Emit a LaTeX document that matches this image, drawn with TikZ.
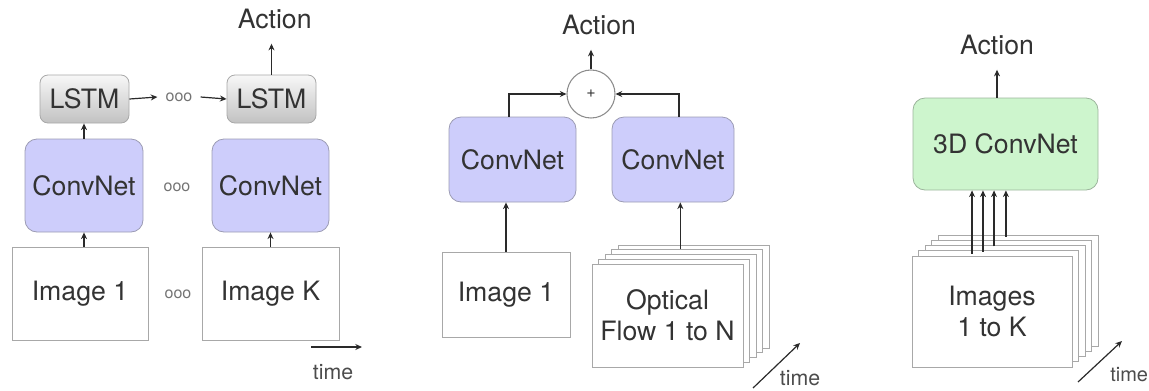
\documentclass[tikz,border=0pt]{standalone}
\usepackage{fontspec}
\setmainfont{TeX Gyre Heros}
\usetikzlibrary{arrows.meta,calc}
\definecolor{txt}{HTML}{333333}
\definecolor{lav}{HTML}{CDCDFB}
\definecolor{lavb}{HTML}{9C9CB4}
\definecolor{grn}{HTML}{CDF5CD}
\definecolor{grnb}{HTML}{9CB49C}
\definecolor{boxb}{HTML}{A8A8A8}
\definecolor{ln}{HTML}{2A2A2A}
\begin{document}
\begin{tikzpicture}[x=0.75pt,y=-0.75pt,
  lbl/.style={text=txt,font=\fontsize{20}{23.25}\selectfont},
  act/.style={lbl,inner xsep=0pt,inner ysep=10.9pt},
  arr/.style={draw=ln,line width=0.9pt,-{Stealth[length=5pt,width=4.5pt]}},
  lstmbox/.style={lbl,draw=boxb,rounded corners=6pt,top color=black!3,bottom color=black!24,line width=0.6pt,minimum width=66.75pt,minimum height=36pt,inner sep=0pt},
  conv/.style={lbl,draw=lavb,fill=lav,rounded corners=9pt,line width=0.6pt,inner sep=0pt},
  conv3/.style={lbl,draw=grnb,fill=grn,rounded corners=9pt,line width=0.6pt,inner sep=0pt},
  imgbox/.style={lbl,draw=boxb,fill=white,line width=0.7pt,inner sep=0pt,align=center},
  dotsl/.style={text=black!55,font=\fontsize{12}{12}\selectfont,inner xsep=6pt,inner ysep=2pt},
  timel/.style={text=black!70,font=\fontsize{16}{16}\selectfont,inner sep=0pt},
  tarr/.style={draw=ln,line width=0.9pt,-{Stealth[length=5pt,width=4.5pt]}},
]
\useasboundingbox (0,0) rectangle (1149,390);

% ---------------- Panel 1 ----------------
\node[lstmbox] (lstm1) at (84.5,99) {LSTM};
\node[lstmbox] (lstm2) at (271.5,99) {LSTM};
\node[dotsl] (d1) at (179,97) {ooo};
\node[conv,minimum width=88.5pt,minimum height=69.75pt] (cn1) at (84,185.5) {ConvNet};
\node[conv,minimum width=87.75pt,minimum height=69.75pt] (cn2) at (270.5,185.5) {ConvNet};
\node[dotsl] (d2) at (177,187) {ooo};
\node[imgbox,minimum width=102pt,minimum height=69.75pt] (img1) at (80,293.5) {Image 1};
\node[imgbox,minimum width=102.75pt,minimum height=69.75pt] (imgK) at (270.5,293.5) {Image K};
\node[dotsl] (d3) at (178,294) {ooo};
\node[act] (act1) at (274.7,19) {Action};

\draw[arr] (cn1.south |- img1.north) -- (cn1.south);
\draw[arr] (imgK.north) -- (imgK.north |- cn2.south);
\draw[arr] (cn1.north) -- (cn1.north |- lstm1.south);
\draw[arr] (lstm1.east) -- (d1.west);
\draw[arr] (d1.east) -- (lstm2.west);
\draw[arr] (lstm2.north) -- (lstm2.north |- act1.south);

\coordinate (t1a) at (311,347);
\coordinate (t1b) at (362,347);
\draw[tarr] (t1a) -- (t1b);
\node[timel] (tm1) at (333,372) {time};

% ---------------- Panel 2 ----------------
\node[act] (act2) at (599,25) {Action};
\node[circle,draw=black!45,fill=white,line width=0.8pt,minimum size=36pt,inner sep=0pt,text=txt,font=\fontsize{12}{12}\selectfont] (plus) at (591,94) {+};
\node[conv,minimum width=95.25pt,minimum height=63.75pt] (cnA) at (512.5,159.5) {ConvNet};
\node[conv,minimum width=91.5pt,minimum height=63.75pt] (cnB) at (673,159.5) {ConvNet};
\node[imgbox,minimum width=96pt,minimum height=63.75pt] (imgA) at (506,294.5) {Image 1};
\foreach \k in {4,3,2,1}
  \node[imgbox,minimum width=113.25pt,minimum height=77.25pt] (of\k) at (667.5+6.5*\k,315.5-4.75*\k) {};
\node[imgbox,minimum width=113.25pt,minimum height=77.25pt] (of0) at (667.5,315.5) {Optical\\Flow 1 to N};

\draw[arr] (plus.north) -- (plus.north |- act2.south);
\draw[arr] ([xshift=-2.6pt]cnA.north) |- (plus.west);
\draw[arr] ([xshift=4.5pt]cnB.north) |- (plus.east);
\draw[arr] (imgA.north) -- (imgA.north |- cnA.south);
\coordinate (bB) at ([xshift=5.5pt]cnB.south);
\draw[arr] (bB |- of3.north) -- (bB);

\coordinate (t2a) at (753,388);
\coordinate (t2b) at (800,343);
\draw[tarr] (t2a) -- (t2b);
\node[timel] (tm2) at (800,378) {time};

% ---------------- Panel 3 ----------------
\node[act] (act3) at (997,45) {Action};
\node[conv3,minimum width=138.75pt,minimum height=69pt] (c3d) at (1005.5,144) {3D ConvNet};
\foreach \k in {4,3,2,1}
  \node[imgbox,minimum width=120pt,minimum height=83.25pt] (st\k) at (992+6.5*\k,311.5-5.25*\k) {};
\node[imgbox,minimum width=120pt,minimum height=83.25pt] (st0) at (992,311.5) {Images\\1 to K};

\draw[arr] (act3.south |- c3d.north) -- (act3.south);
\coordinate (a1) at ([xshift=-25.1pt]c3d.south);
\coordinate (a2) at ([xshift=-16.9pt]c3d.south);
\coordinate (a3) at ([xshift=-8.6pt]c3d.south);
\coordinate (a4) at ([xshift=0.3pt]c3d.south);
\draw[arr] ([yshift=1.5pt]a1 |- st0.north) -- (a1);
\draw[arr] ([yshift=-1pt]a2 |- st1.north) -- (a2);
\draw[arr] ([yshift=-1pt]a3 |- st2.north) -- (a3);
\draw[arr] ([yshift=-1.5pt]a4 |- st4.north) -- (a4);

\coordinate (t3a) at (1078,382);
\coordinate (t3b) at (1122,341);
\draw[tarr] (t3a) -- (t3b);
\node[timel,anchor=west,font=\fontsize{15}{15}\selectfont] (tm3) at (1110,375) {time};
\end{tikzpicture}
\end{document}
